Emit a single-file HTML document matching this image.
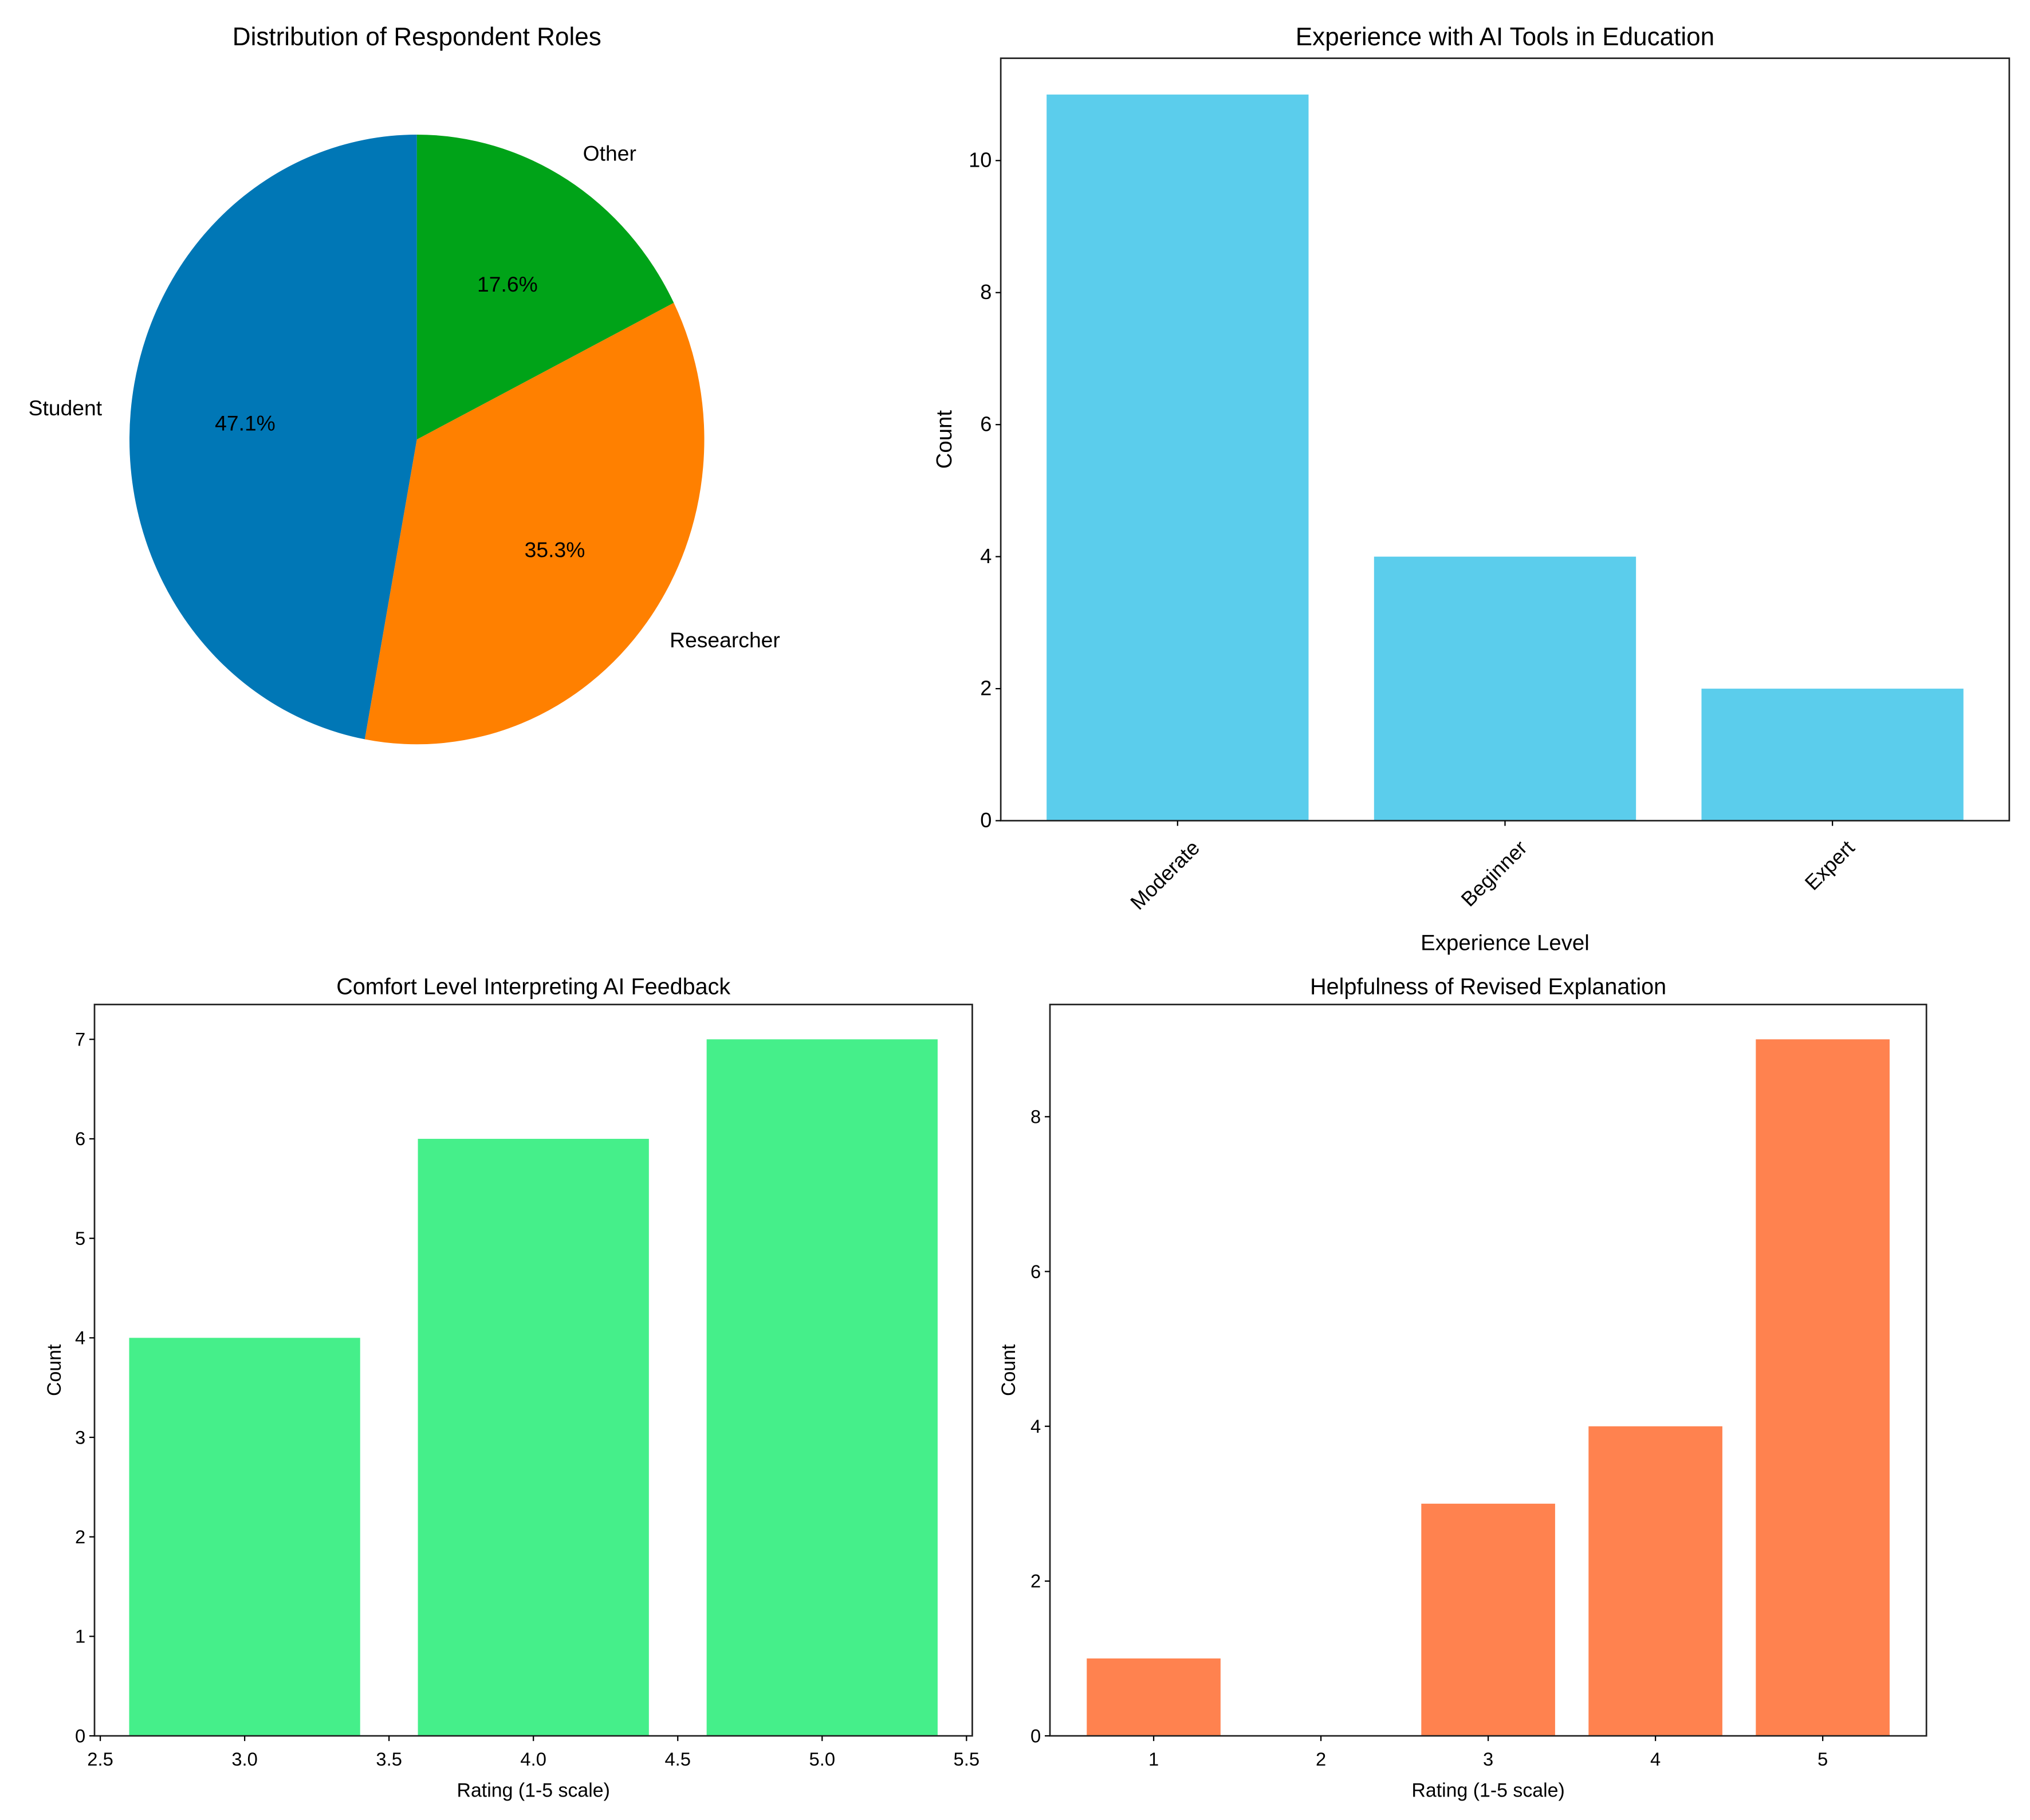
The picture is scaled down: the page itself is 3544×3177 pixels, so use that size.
<!DOCTYPE html>
<html><head><meta charset="utf-8"><style>html,body{margin:0;padding:0;background:#fff}svg{display:block}text{font-family:"Liberation Sans","DejaVu Sans",sans-serif;fill:#000}</style></head>
<body>
<svg id="fig" width="3544" height="3177" viewBox="0 0 1568 1406" preserveAspectRatio="none" xmlns="http://www.w3.org/2000/svg"></svg>
<script>
const roleLabels = ["Student","Researcher","Other"];
const roleValues = [47.1,35.3,17.6];
const roleColors = ["#0077B6","#FF8000","#00A318"];
const expCategories = ["Moderate","Beginner","Expert"];
const expValues = [11,4,2];
const expTicks = [0,2,4,6,8,10];
const comfortRatings = [3,4,5];
const comfortValues = [4,6,7];
const comfortYTicks = [0,1,2,3,4,5,6,7];
const comfortXTicks = ["2.5","3.0","3.5","4.0","4.5","5.0","5.5"];
const helpRatings = [1,2,3,4,5];
const helpValues = [1,0,3,4,9];
const helpYTicks = [0,2,4,6,8];
const helpXTicks = [1,2,3,4,5];

const NS="http://www.w3.org/2000/svg";
const svg=document.getElementById('fig');
function mk(tag,attrs,parent,txt){const e=document.createElementNS(NS,tag);for(const k in attrs)e.setAttribute(k,attrs[k]);if(txt!==undefined)e.textContent=txt;(parent||svg).appendChild(e);return e;}
function txt(x,y,s,size,anchor,parent,rot){const t=mk('text',{x:x,y:y,'font-size':size,'text-anchor':anchor||'middle'},parent,s);if(rot)t.setAttribute('transform','rotate('+rot+' '+x+' '+y+')');return t;}

// ---- Pie ----
const pie=mk('g',{});


const t0=txt(322,35,"Distribution of Respondent Roles",19.5,'middle',pie);


const cx=322,cy=339.5,rx=222,ry=235.5;
const total=roleValues.reduce((a,b)=>a+b,0);
let ang=90;
roleValues.forEach((v,i)=>{
  const sweep=v/total*360;const a1=ang*Math.PI/180,a2=(ang+sweep)*Math.PI/180;
  const x1=cx+rx*Math.cos(a1),y1=cy-ry*Math.sin(a1),x2=cx+rx*Math.cos(a2),y2=cy-ry*Math.sin(a2);
  const p=mk('path',{d:`M${cx},${cy} L${x1},${y1} A${rx},${ry} 0 ${sweep>180?1:0} 0 ${x2},${y2} Z`,fill:roleColors[i]},pie);
  
  
  const mid=(ang+sweep/2)*Math.PI/180;
  const lx=cx+rx*1.1*Math.cos(mid),ly=cy-ry*1.1*Math.sin(mid);
  const lt=txt(lx,ly+5,roleLabels[i],16.5,Math.cos(mid)<-0.1?'end':(Math.cos(mid)>0.1?'start':'middle'),pie);
  
  
  const px=cx+rx*0.6*Math.cos(mid),py=cy-ry*0.6*Math.sin(mid);
  const pt=txt(px,py+6,v.toFixed(1)+'%',16.5,'middle',pie);
  
  
  ang+=sweep;
});

// ---- generic bar chart ----
function barChart(o){
  const g=mk('g',{});
  
  
  const X=v=>o.L+(v-o.xmin)/(o.xmax-o.xmin)*(o.R-o.L);
  const Y=v=>o.B-(v-o.ymin)/(o.ymax-o.ymin)*(o.B-o.T);
  o.xs.forEach((xv,i)=>{
    const x0=X(xv-0.4),x1=X(xv+0.4),y=Y(o.vals[i]);
    const r=mk('rect',{x:x0,y:y,width:x1-x0,height:Y(0)-y,fill:o.color},g);
    
    
  });
  const fr=mk('rect',{x:o.L,y:o.T,width:o.R-o.L,height:o.B-o.T,fill:'none',stroke:'#222','stroke-width':1.2},g);
  
  
  o.yt.forEach(v=>{const y=Y(v);mk('line',{x1:o.L-4,y1:y,x2:o.L,y2:y,stroke:'#000'},g);
    const t=txt(o.L-7,y+5,String(v),o.tickSize,'end',g);
    
    });
  o.xt.forEach((lab,i)=>{const xv=o.xtv[i];const x=X(xv);mk('line',{x1:x,y1:o.B,x2:x,y2:o.B+4,stroke:'#000'},g);
    let t;
    if(o.rot){t=txt(x+18,o.B+22,lab,o.tickSize,'end',g,-45);}
    else t=txt(x,o.B+23,lab,o.tickSize,'middle',g);
    
    });
  const tt=txt((o.L+o.R)/2,o.T+o.titleDy,o.title,o.titleSize,'middle',g);
  
  
  if(o.xlabel){const xl=txt((o.L+o.R)/2,o.xlY,o.xlabel,o.xlSize,'middle',g);
    
    }
  const yl=txt(o.ylX,(o.T+o.B)/2,'Count',o.xlSize,'middle',g,-90);
  
  
}
barChart({name:'experience-chart',L:773,R:1552,T:45,B:634,xmin:-0.54,xmax:2.54,ymin:0,ymax:11.55,
  xs:[0,1,2],vals:expValues,barNames:expCategories.map(s=>s.toLowerCase()),color:'#5BCDEC',tickSize:16,
  yt:expTicks,xt:expCategories,xtv:[0,1,2],rot:true,title:'Experience with AI Tools in Education',titleDy:-10,titleSize:19.5,
  xlabel:'Experience Level',xlY:734,xlSize:17,ylX:735});
barChart({name:'comfort-chart',L:73,R:751,T:776,B:1341,xmin:2.48,xmax:5.52,ymin:0,ymax:7.35,
  xs:comfortRatings,vals:comfortValues,barNames:comfortRatings.map(String),color:'#45EF8A',tickSize:14.5,
  yt:comfortYTicks,xt:comfortXTicks,xtv:comfortXTicks.map(Number),title:'Comfort Level Interpreting AI Feedback',titleDy:-8,titleSize:17.5,
  xlabel:'Rating (1-5 scale)',xlY:1388,xlSize:15,ylX:47});
barChart({name:'helpfulness-chart',L:811,R:1488,T:776,B:1341,xmin:0.38,xmax:5.62,ymin:0,ymax:9.45,
  xs:helpRatings,vals:helpValues,barNames:helpRatings.map(String),color:'#FF824F',tickSize:14.5,
  yt:helpYTicks,xt:helpXTicks.map(String),xtv:helpXTicks,title:'Helpfulness of Revised Explanation',titleDy:-8,titleSize:17.5,
  xlabel:'Rating (1-5 scale)',xlY:1388,xlSize:15,ylX:784});
</script>
</body></html>
